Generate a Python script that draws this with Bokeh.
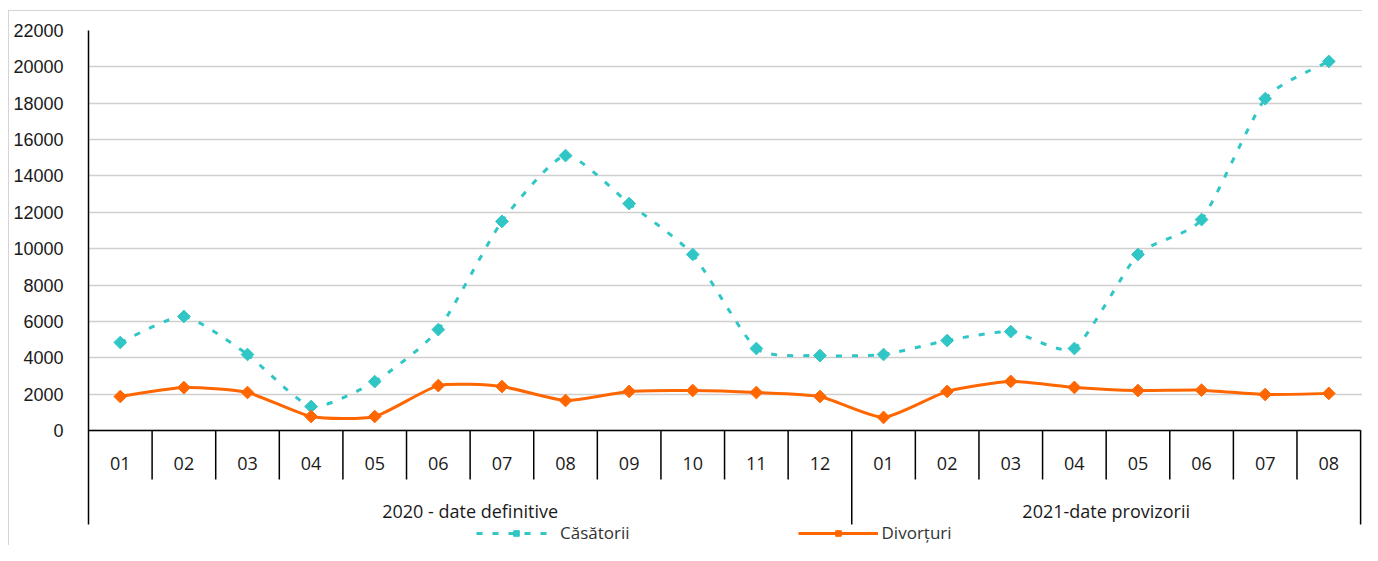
from bokeh.plotting import figure
from bokeh.models import Range1d, FixedTicker, Legend, LegendItem, ColumnDataSource
from bokeh.core.properties import value
from bokeh.embed import file_html
from bokeh.resources import INLINE
import math

# ---- data ----
months = ["01", "02", "03", "04", "05", "06", "07", "08", "09", "10", "11", "12",
          "01", "02", "03", "04", "05", "06", "07", "08"]
groups = ["2020 - date definitive", "2021-date provizorii"]
group_sizes = [12, 8]
casatorii = [4840, 6270, 4180, 1320, 2690, 5550, 11500, 15120, 12480, 9680, 4510, 4120,
             4180, 4950, 5440, 4510, 9680, 11600, 18250, 20300]
divorturi = [1870, 2360, 2090, 770, 770, 2470, 2420, 1650, 2150, 2200, 2090, 1870,
             720, 2150, 2700, 2370, 2200, 2220, 1980, 2040]
y_ticks = [0, 2000, 4000, 6000, 8000, 10000, 12000, 14000, 16000, 18000, 20000, 22000]
series_names = ["Căsătorii", "Divorțuri"]

TEAL = "#31C6C6"
ORANGE = "#FF6600"
FONT = "Open Sans"

n = len(months)
xs = [i + 0.5 for i in range(n)]

W, H = 1362, 545
p = figure(width=W, height=H, output_backend="svg", toolbar_location=None,
           x_range=Range1d(0, 20.03), y_range=Range1d(-6325, 22000),
           x_axis_location=None, min_border_left=88, min_border_top=30,
           min_border_right=0, min_border_bottom=0)
p.outline_line_color = None
p.background_fill_color = None
p.border_fill_color = None
p.styles = {"background": "linear-gradient(#D4D4D4,#D4D4D4) 8px 10px / 100% 1px no-repeat, "
                          "linear-gradient(#D4D4D4,#D4D4D4) 8px 10px / 1px 100% no-repeat, white"}

# y axis
ax = p.yaxis[0]
ax.ticker = FixedTicker(ticks=y_ticks)
ax.bounds = (-5170, 22000)
ax.axis_line_color = "black"
ax.axis_line_width = 1.5
ax.major_tick_line_color = None
ax.minor_tick_line_color = None
ax.major_label_standoff = 19
ax.major_label_text_font = "Liberation Sans"
ax.major_label_text_font_size = "18px"
ax.major_label_text_color = "#1A1A1A"

p.xgrid.visible = False
p.ygrid.grid_line_color = "#CFCFCF"
p.ygrid.grid_line_width = 1.5

# category table lines
y_lab = -1815
y_short = -2695
y_grp = -4400
y_long = -5170
bounds = [0]
for s in group_sizes:
    bounds.append(bounds[-1] + s)
sx, sy0, sy1 = [], [], []
for k in range(1, n + 1):
    sx.append(k)
    sy0.append(0)
    sy1.append(y_long if k in bounds else y_short)
p.segment(x0=sx, y0=sy0, x1=sx, y1=sy1, line_color="black", line_width=1.5)
p.segment(x0=[0], y0=[0], x1=[n], y1=[0], line_color="black", line_width=1.5)

p.text(x=xs, y=[y_lab] * n, text=months, text_align="center", text_baseline="middle",
       text_font=value(FONT), text_font_size="18px", text_color="#1A1A1A")
gx = [(bounds[i] + bounds[i + 1]) / 2 for i in range(len(groups))]
p.text(x=gx, y=[y_grp] * len(groups), text=groups, text_align="center",
       text_baseline="middle", text_font=value(FONT), text_font_size="18px",
       text_color="#1A1A1A")

TENSION = 1 / 10


def bez(vals):
    x0, y0, x1, y1, cx0, cy0, cx1, cy1 = [], [], [], [], [], [], [], []
    m = len(vals)
    for i in range(m - 1):
        ip = max(i - 1, 0)
        inn = min(i + 2, m - 1)
        x0.append(xs[i]); y0.append(vals[i])
        x1.append(xs[i + 1]); y1.append(vals[i + 1])
        cx0.append(xs[i] + (xs[i + 1] - xs[ip]) * TENSION)
        cy0.append(vals[i] + (vals[i + 1] - vals[ip]) * TENSION)
        cx1.append(xs[i + 1] - (xs[inn] - xs[i]) * TENSION)
        cy1.append(vals[i + 1] - (vals[inn] - vals[i]) * TENSION)
    return ColumnDataSource(dict(x0=x0, y0=y0, x1=x1, y1=y1, cx0=cx0, cy0=cy0, cx1=cx1, cy1=cy1))


r1 = p.bezier(x0="x0", y0="y0", x1="x1", y1="y1", cx0="cx0", cy0="cy0", cx1="cx1", cy1="cy1",
              source=bez(casatorii), line_color=TEAL, line_width=3, line_dash="6 10")
m1 = p.scatter(xs, casatorii, marker="square", angle=math.pi / 4, size=9,
               fill_color=TEAL, line_color=TEAL)
r2 = p.bezier(x0="x0", y0="y0", x1="x1", y1="y1", cx0="cx0", cy0="cy0", cx1="cx1", cy1="cy1",
              source=bez(divorturi), line_color=ORANGE, line_width=3)
m2 = p.scatter(xs, divorturi, marker="square", angle=math.pi / 4, size=9,
               fill_color=ORANGE, line_color=ORANGE)

legend = Legend(items=[LegendItem(label=series_names[0], renderers=[r1, m1]),
                       LegendItem(label=series_names[1], renderers=[r2, m2])],
                orientation="horizontal", location=(388, 1), padding=0, margin=0,
                spacing=168, glyph_width=80, glyph_height=14, label_height=14,
                label_standoff=4, label_text_font=FONT, label_text_font_size="17px",
                label_text_color="#333333", background_fill_alpha=0,
                border_line_color=None)
p.add_layout(legend)

open("out.html", "w").write(file_html(p, INLINE))
